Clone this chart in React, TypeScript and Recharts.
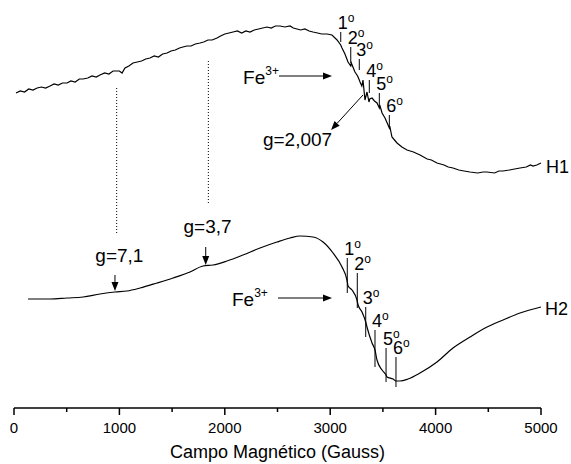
import React from 'react';
import { LineChart, Line, XAxis, YAxis, ReferenceLine, ReferenceDot } from 'recharts';

const H1_GAUSS = [
  19, 60, 100, 140, 180, 220, 260, 300, 342, 380, 420, 460, 503, 540, 580, 620, 655, 700, 740, 780,
  816, 860, 900, 940, 977, 1000, 1025, 1053, 1090, 1129, 1170, 1210, 1250, 1290, 1330, 1370, 1410,
  1452, 1490, 1530, 1570, 1603, 1640, 1680, 1720, 1765, 1800, 1840, 1880, 1926, 1960, 2000, 2040,
  2078, 2120, 2160, 2200, 2239, 2280, 2320, 2360, 2400, 2440, 2480, 2524, 2570, 2619, 2650, 2685,
  2720, 2760, 2800, 2837, 2880, 2920, 2970, 3017, 3065, 3100, 3112, 3140, 3169, 3195, 3200, 3235,
  3260, 3276, 3283, 3300, 3311, 3330, 3349, 3368, 3375, 3397, 3420, 3444, 3466, 3470, 3492, 3520,
  3549, 3561, 3565, 3586, 3610, 3634, 3680, 3729, 3790, 3852, 3920, 3960, 4013, 4080, 4120, 4165,
  4220, 4270, 4326, 4400, 4450, 4488, 4560, 4600, 4640, 4700, 4750, 4801, 4860, 4900, 4924, 4960, 5000,
];
const H1_SIGNAL = [
  315, 317, 316, 319, 318, 320, 321, 320, 322, 324, 323, 325, 325, 327, 326, 329, 329, 330, 332, 331,
  333, 335, 334, 337, 337, 337, 335, 340, 342, 345, 346, 347, 349, 350, 352, 351, 354,
  355, 357, 358, 360, 361, 362, 362, 364, 365, 366, 368, 368, 370, 372, 374, 375,
  376, 377, 375, 377, 376, 378, 379, 380, 381, 380, 382, 382, 381, 382, 380, 379,
  378, 379, 377, 376, 375, 374, 374, 373, 368, 363, 360, 354, 346, 342, 345, 336,
  332, 328, 326, 322, 328, 308, 316, 306, 309, 310, 307, 305, 300, 303, 295, 290,
  283, 280, 282, 271, 268, 265, 261, 258, 256, 253, 249, 248, 245, 243, 241, 240,
  238, 237, 236, 235, 236, 236, 235, 237, 237, 238, 239, 240, 241, 243, 242, 243, 245,
];

const H2_GAUSS = [
  133, 342, 503, 655, 816, 958, 1072, 1196, 1357, 1509, 1670, 1793, 1888, 2021, 2173, 2334, 2495,
  2619, 2714, 2837, 2932, 3027, 3112, 3159, 3170, 3207, 3254, 3265, 3302, 3337, 3349, 3397, 3425,
  3444, 3492, 3530, 3539, 3596, 3624, 3662, 3738, 3852, 4013, 4165, 4326, 4488, 4640, 4801, 5000,
];
const H2_SIGNAL = [
  109, 109, 110, 111, 114, 116, 117, 120, 125, 130, 136, 142, 143, 147, 153, 160, 166,
  170, 172, 171, 166, 155, 141, 128, 122, 118, 108, 103, 96, 86, 81, 65, 58,
  48, 38, 33, 31, 29, 27, 27, 29, 35, 46, 60, 71, 81, 88, 95, 101,
];

// linhas hiperfinas (sexteto)
const ORDINALS = ['1', '2', '3', '4', '5', '6'];
const H1_LINES = [3100, 3195, 3276, 3371, 3466, 3561];
const H1_LINE_TOP = [376, 361, 349, 328, 315, 293];
const H1_LINE_BOTTOM = [366, 345, 338, 315, 303, 281];
const H2_LINES = [3162, 3257, 3337, 3425, 3530, 3624];
const H2_LINE_TOP = [150, 135, 101, 78, 60, 51];
const H2_LINE_BOTTOM = [115, 100, 71, 41, 26, 21];

const X_TICKS = [0, 500, 1000, 1500, 2000, 2500, 3000, 3500, 4000, 4500, 5000];

const h1Data = H1_GAUSS.map((g, i) => ({ g, v: H1_SIGNAL[i] }));
const h2Data = H2_GAUSS.map((g, i) => ({ g, v: H2_SIGNAL[i] }));

const FONT = '"Liberation Sans", Arial, sans-serif';

const AxisTick = (props: any) => {
  const { x, y, payload } = props;
  const major = payload.value % 1000 === 0;
  return (
    <g>
      <line x1={x} x2={x} y1={y} y2={y + (major ? 7 : 4)} stroke="#000" strokeWidth={1.5} />
      {major && (
        <text x={x} y={y + 25} textAnchor="middle" fontSize={15} fontFamily={FONT} fill="#000">
          {payload.value}
        </text>
      )}
    </g>
  );
};

const arrow = (props: any) => {
  const { x1, y1, x2, y2 } = props;
  const a = Math.atan2(y2 - y1, x2 - x1);
  const len = 9;
  const w = 3.5;
  const bx = x2 - len * Math.cos(a);
  const by = y2 - len * Math.sin(a);
  const px = -Math.sin(a) * w;
  const py = Math.cos(a) * w;
  return (
    <g>
      <line x1={x1} y1={y1} x2={bx} y2={by} stroke="#000" strokeWidth={1} />
      <polygon points={`${x2},${y2} ${bx + px},${by + py} ${bx - px},${by - py}`} fill="#000" />
    </g>
  );
};

const label = (text: string, sup?: string, anchor: string = 'start', dx = 0, size = 19) => (p: any) => (
  <text x={p.cx + dx} y={p.cy} textAnchor={anchor} fontSize={size} fontFamily={FONT} fill="#000">
    {text}
    {sup && (
      <tspan fontSize={12} dy={-9}>
        {sup}
      </tspan>
    )}
  </text>
);

const ordinal = (n: string) => (p: any) => (
  <text x={p.cx - 3} y={p.cy - 3} fontSize={18} fontFamily={FONT} fill="#000">
    {n}
    <tspan fontSize={12} dy={-7}>o</tspan>
  </text>
);

const hyperfine = (xs: number[], tops: number[], bottoms: number[], key: string) =>
  xs.flatMap((g, i) => [
    <ReferenceLine
      key={`${key}l${i}`}
      segment={[{ x: g, y: tops[i] }, { x: g, y: bottoms[i] }]}
      stroke="#000"
      strokeWidth={1}
    />,
    <ReferenceDot key={`${key}t${i}`} x={g} y={tops[i]} r={0} shape={ordinal(ORDINALS[i])} />,
  ]);

export default function App() {
  return (
    <div style={{ position: 'absolute', left: 0, top: 0, background: '#fff' }}>
      <LineChart width={571} height={464} margin={{ top: 0, right: 30, bottom: 0, left: 14 }}>
        <XAxis
          type="number"
          dataKey="g"
          domain={[0, 5000]}
          ticks={X_TICKS}
          interval={0}
          tickLine={false}
          tickSize={0}
          tickMargin={0}
          tick={<AxisTick />}
          axisLine={{ stroke: '#000', strokeWidth: 1.5 }}
          height={56}
          label={{
            value: 'Campo Magnético (Gauss)',
            position: 'insideBottom',
            offset: 6,
            fontSize: 18,
            fontFamily: FONT,
            fill: '#000',
          }}
        />
        <YAxis type="number" domain={[0, 408]} hide />
        <Line data={h1Data} dataKey="v" type="linear" stroke="#000" strokeWidth={1.2} dot={false} isAnimationActive={false} />
        <Line data={h2Data} dataKey="v" type="monotone" stroke="#000" strokeWidth={1.2} dot={false} isAnimationActive={false} />

        {/* linhas pontilhadas g=7,1 e g=3,7 */}
        <ReferenceLine segment={[{ x: 974, y: 320 }, { x: 974, y: 173 }]} stroke="#000" strokeDasharray="1 2" />
        <ReferenceLine segment={[{ x: 1844, y: 347 }, { x: 1844, y: 203 }]} stroke="#000" strokeDasharray="1 2" />

        {hyperfine(H1_LINES, H1_LINE_TOP, H1_LINE_BOTTOM, 'a')}
        {hyperfine(H2_LINES, H2_LINE_TOP, H2_LINE_BOTTOM, 'b')}

        {/* setas */}
        <ReferenceLine segment={[{ x: 2514, y: 332 }, { x: 3017, y: 332 }]} shape={arrow} />
        <ReferenceLine segment={[{ x: 2505, y: 110 }, { x: 3017, y: 110 }]} shape={arrow} />
        <ReferenceLine segment={[{ x: 3311, y: 313 }, { x: 3008, y: 278 }]} shape={arrow} />
        <ReferenceLine segment={[{ x: 958, y: 133 }, { x: 958, y: 117 }]} shape={arrow} />
        <ReferenceLine segment={[{ x: 1819, y: 161 }, { x: 1819, y: 143 }]} shape={arrow} />

        {/* rótulos */}
        <ReferenceDot x={2173} y={324} r={0} shape={label('Fe', '3+')} />
        <ReferenceDot x={2068} y={102} r={0} shape={label('Fe', '3+')} />
        <ReferenceDot x={2362} y={262} r={0} shape={label('g=2,007')} />
        <ReferenceDot x={1000} y={146} r={0} shape={label('g=7,1', undefined, 'middle')} />
        <ReferenceDot x={1836} y={175} r={0} shape={label('g=3,7', undefined, 'middle')} />
        <ReferenceDot x={5000} y={235} r={0} shape={label('H1', undefined, 'start', 5, 18)} />
        <ReferenceDot x={5000} y={93} r={0} shape={label('H2', undefined, 'start', 4, 18)} />
      </LineChart>
    </div>
  );
}
